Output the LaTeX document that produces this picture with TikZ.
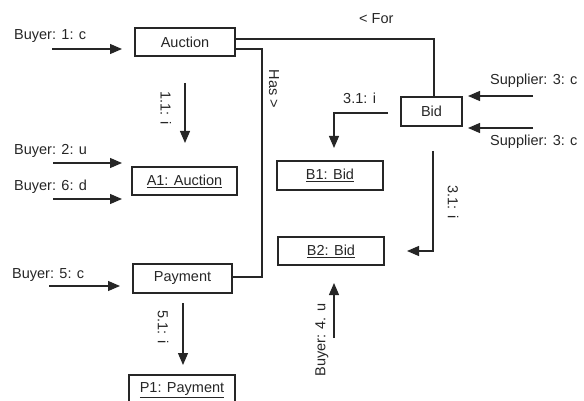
\documentclass[tikz,border=0pt]{standalone}
\usepackage{fontspec}
\setmainfont{Liberation Sans}
\usetikzlibrary{arrows.meta}
\begin{document}
\begin{tikzpicture}[x=1pt,y=-1pt,
  txt/.style={font=\fontsize{14.5}{17}\selectfont, text=black!85},
  box/.style={draw=black!85, line width=1.2pt, inner sep=0pt, txt},
  lbl/.style={inner sep=0pt, txt},
  conn/.style={draw=black!85, line width=1.2pt},
  arr/.style={conn, -{Triangle[length=12pt,width=10pt]}}]
\useasboundingbox (0,0) rectangle (584,401);
% boxes
\node[box, minimum width=100pt, minimum height=28pt] (auc) at (185,42) {Auction};
\node[box, minimum width=105pt, minimum height=28pt] (a1) at (184.5,181) {\underline{A1: Auction}};
\node[box, minimum width=99pt, minimum height=29pt] (pay) at (182.5,278.5) {Payment};
\node[box, minimum width=106pt, minimum height=30pt] (p1) at (182,390) {\underline{P1: Payment}};
\node[box, minimum width=61pt, minimum height=29pt] (bid) at (431.5,111.5) {Bid};
\node[box, minimum width=106pt, minimum height=29pt] (b1) at (330,175.5) {\underline{B1: Bid}};
\node[box, minimum width=106pt, minimum height=28pt] (b2) at (331,251) {\underline{B2: Bid}};
% associations
\coordinate (forc) at (434,39);
\draw[conn] ([yshift=3pt]auc.east) -- (forc) -- (forc |- bid.north);
\node[lbl, anchor=base west] (forl) at (359,24) {< For};
\coordinate (has1) at (262,49);
\coordinate (has2) at (262,277);
\draw[conn] ([yshift=-7pt]auc.east) -- (has1) -- (has2) -- (pay.east |- has2);
\node[lbl, rotate=-90] (hasl) at (274,89) {Has >};
% buyer messages
\coordinate (m1s) at (52,49); \coordinate (m1e) at (122,49);
\draw[arr] (m1s) -- (m1e);
\node[lbl, anchor=base west] (m1l) at (14,40) {Buyer: 1: c};
\coordinate (m2s) at (53,163); \coordinate (m2e) at (122,163);
\draw[arr] (m2s) -- (m2e);
\node[lbl, anchor=base west] (m2l) at (14,155) {Buyer: 2: u};
\coordinate (m6s) at (53,199); \coordinate (m6e) at (122,199);
\draw[arr] (m6s) -- (m6e);
\node[lbl, anchor=base west] (m6l) at (14,191) {Buyer: 6: d};
\coordinate (m5s) at (49,286); \coordinate (m5e) at (120,286);
\draw[arr] (m5s) -- (m5e);
\node[lbl, anchor=base west] (m5l) at (12,278) {Buyer: 5: c};
% 1.1
\coordinate (c11s) at (185,83); \coordinate (c11e) at (185,143);
\draw[arr] (c11s) -- (c11e);
\node[lbl, rotate=-90] (c11l) at (166,108) {1.1: i};
% 5.1
\coordinate (c51s) at (183,303); \coordinate (c51e) at (183,365);
\draw[arr] (c51s) -- (c51e);
\node[lbl, rotate=-90] (c51l) at (163,327) {5.1: i};
% suppliers
\coordinate (s1s) at (533,96); \coordinate (s1e) at (468,96);
\draw[arr] (s1s) -- (s1e);
\node[lbl, anchor=base west] (s1l) at (490,85) {Supplier: 3: c};
\coordinate (s2s) at (533,128); \coordinate (s2e) at (468,128);
\draw[arr] (s2s) -- (s2e);
\node[lbl, anchor=base west] (s2l) at (490,146) {Supplier: 3: c};
% 3.1 to B1
\coordinate (c31a) at (388,113); \coordinate (c31b) at (334,113); \coordinate (c31e) at (334,148);
\draw[arr] (c31a) -- (c31b) -- (c31e);
\node[lbl, anchor=base west] (c31l) at (343,104) {3.1: i};
% 3.1 to B2
\coordinate (c32a) at (433,151); \coordinate (c32b) at (433,251); \coordinate (c32e) at (407,251);
\draw[arr] (c32a) -- (c32b) -- (c32e);
\node[lbl, rotate=-90] (c32l) at (453,202) {3.1: i};
% buyer 4
\coordinate (m4s) at (334,338); \coordinate (m4e) at (334,283);
\draw[arr] (m4s) -- (m4e);
\node[lbl, rotate=90] (m4l) at (322,340) {Buyer: 4. u};
\end{tikzpicture}
\end{document}
